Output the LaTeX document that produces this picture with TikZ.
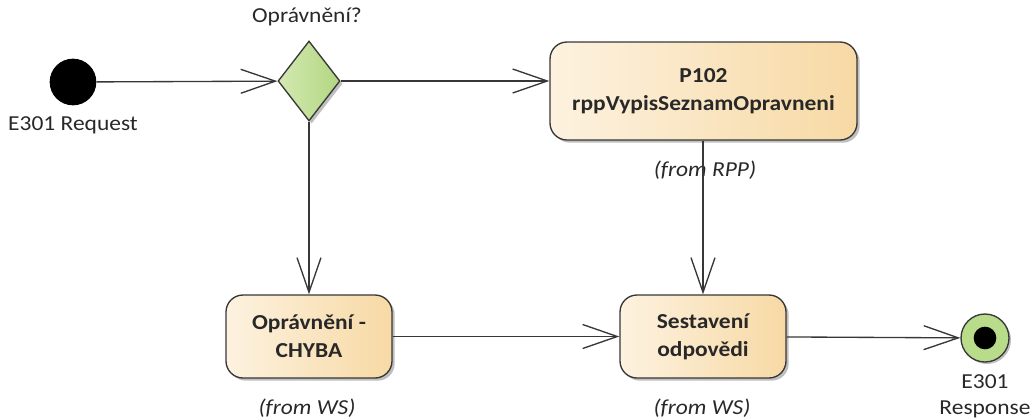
\documentclass[tikz,border=0pt]{standalone}
\usepackage{fontspec}
\setmainfont{Carlito}[FakeStretch=1.1]
\usetikzlibrary{arrows.meta,shapes.geometric,shadows}
\definecolor{boxL}{RGB}{253,242,224}
\definecolor{boxR}{RGB}{247,217,164}
\definecolor{decL}{RGB}{212,233,178}
\definecolor{decR}{RGB}{178,214,128}
\definecolor{finG}{RGB}{184,220,138}
\definecolor{edge}{RGB}{55,55,55}
\definecolor{txt}{RGB}{40,40,40}
\tikzset{
  actbox/.style={draw=edge, line width=1pt, rounded corners=12.75pt, left color=boxL, right color=boxR,
    inner sep=0pt, align=center, font=\fontsize{16pt}{21pt}\selectfont\bfseries, text=txt,
    drop shadow={shadow xshift=2pt, shadow yshift=-2pt, opacity=0.25, fill=black}},
  decis/.style={diamond, draw=edge, line width=1pt, left color=decL, right color=decR, inner sep=0pt,
    minimum width=46.5pt, minimum height=60pt,
    drop shadow={shadow xshift=2pt, shadow yshift=-2pt, opacity=0.25, fill=black}},
  lbl/.style={font=\fontsize{16pt}{19.5pt}\selectfont, text=txt, align=center, inner sep=0pt},
  fromlbl/.style={font=\fontsize{16pt}{19.5pt}\selectfont\itshape, text=txt, inner sep=0pt},
  arr/.style={draw=edge, line width=1pt, -{Straight Barb[length=26pt, width=18pt, line width=1pt]}}
}
\begin{document}
\begin{tikzpicture}[x=0.75pt, y=-0.75pt]
\useasboundingbox (0,0) rectangle (1032,419);
% start
\node[circle, fill=black, minimum size=35pt, inner sep=0pt] (start) at (73,82) {};
\node[lbl] (startl) at (73,125) {E301 Request};
% decision
\node[decis] (dec) at (309,81) {};
\node[lbl] (decl) at (307,17) {Oprávnění?};
% activities
\node[actbox, minimum width=230.25pt, minimum height=73.5pt] (p102) at (703.5,91) {P102\\rppVypisSeznamOpravneni};
\node[fromlbl] (p102f) at (705,170) {(from RPP)};
\node[actbox, minimum width=124.5pt, minimum height=62.25pt] (chyba) at (309,336.5) {Oprávnění -\\CHYBA};
\node[fromlbl] (chybaf) at (307,408) {(from WS)};
\node[actbox, minimum width=124.5pt, minimum height=62.25pt] (sest) at (703,336.5) {Sestavení\\odpovědi};
\node[fromlbl] (sestf) at (702,408) {(from WS)};
% final
\node[circle, draw=edge, line width=1pt, fill=finG, minimum size=36pt, inner sep=0pt,
  drop shadow={shadow xshift=1.5pt, shadow yshift=-1.5pt, opacity=0.25, fill=black}] (fin) at (985,338) {};
\node[circle, fill=black, minimum size=17pt, inner sep=0pt] (fini) at (fin) {};
\node[lbl] (finl) at (985,396) {E301\\Response};
% connectors
\draw[arr] (start) -- (dec);
\draw[arr] (dec.east) -- (dec.east -| p102.west);
\draw[arr] (dec.south) -- (chyba.north);
\draw[arr] (sest.north |- p102.south) -- (sest.north);
\draw[arr] (chyba) -- (sest);
\draw[arr] (sest) -- (fin);
\end{tikzpicture}
\end{document}
